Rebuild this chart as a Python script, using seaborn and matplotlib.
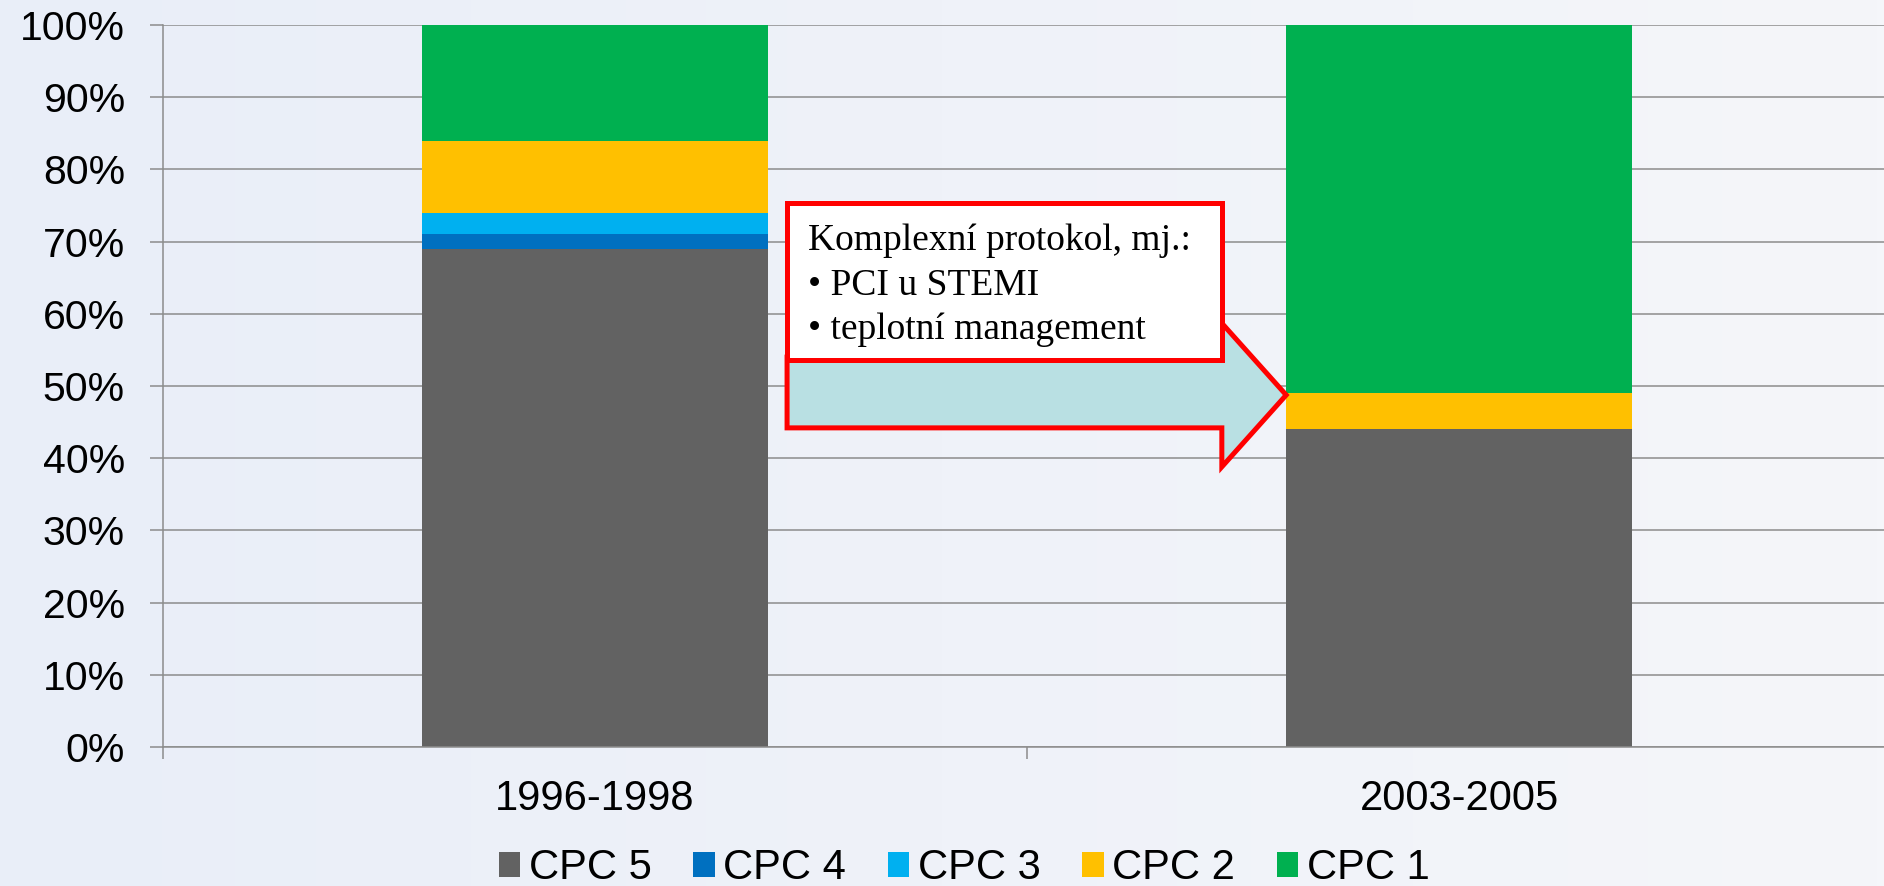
import numpy as np
import pandas as pd
import seaborn as sns
import matplotlib.pyplot as plt
from matplotlib.colors import LinearSegmentedColormap
from matplotlib.patches import Polygon, Rectangle, Patch

# Data (percent of patients)
periods = ['1996-1998', '2003-2005']
cpc5 = [69, 44]
cpc4 = [2, 0]
cpc3 = [3, 0]
cpc2 = [10, 5]
cpc1 = [16, 51]

stack = ['CPC 5', 'CPC 4', 'CPC 3', 'CPC 2', 'CPC 1']
colors = {'CPC 5': '#626262', 'CPC 4': '#0070C0', 'CPC 3': '#00B0F0',
          'CPC 2': '#FFC000', 'CPC 1': '#00B050'}

df = pd.DataFrame({'period': periods, 'CPC 5': cpc5, 'CPC 4': cpc4,
                   'CPC 3': cpc3, 'CPC 2': cpc2, 'CPC 1': cpc1})
cum = df[stack].cumsum(axis=1)

sns.set_theme(style='white')
plt.rcParams['font.family'] = ['Liberation Sans', 'DejaVu Sans']
plt.rcParams['text.color'] = 'black'

W, H = 1884, 886
fig = plt.figure(figsize=(W / 100, H / 100), dpi=100)

# light bluish gradient background
bg = fig.add_axes([0, 0, 1, 1], zorder=0)
cmap = LinearSegmentedColormap.from_list('bg', ['#E9EEF8', '#F5F6FA'])
bg.imshow(np.linspace(0, 1, 256).reshape(1, -1), aspect='auto', cmap=cmap,
          extent=[0, 1, 0, 1])
bg.axis('off')

ax = fig.add_axes([163 / W, 139 / H, 1728 / W, 722 / H], zorder=1)
ax.patch.set_alpha(0)

# stacked bars: draw cumulative totals from top segment down
for name in reversed(stack):
    sns.barplot(x=df['period'], y=cum[name], color=colors[name], width=0.4,
                saturation=1, linewidth=0, ax=ax)

ax.set_xlim(-0.5, 1.5)
ax.set_ylim(0, 100)
ax.set_xlabel('')
ax.set_ylabel('')
ax.set_yticks(range(0, 101, 10))
ax.set_yticklabels([f'{v}%' for v in range(0, 101, 10)])
ax.set_axisbelow(True)
ax.yaxis.grid(True, color='#8C8C8C', linewidth=1.1)
ax.xaxis.grid(False)
for s in ['top', 'right']:
    ax.spines[s].set_visible(False)
for s in ['left', 'bottom']:
    ax.spines[s].set_color('#8C8C8C')
    ax.spines[s].set_linewidth(1.1)
ax.set_xticks([-0.5, 0.5, 1.5], minor=True)
ax.tick_params(axis='y', which='major', length=9.4, width=1.1, color='#8C8C8C',
               direction='out', pad=18, labelsize=29.5, labelcolor='black', left=True)
ax.tick_params(axis='x', which='major', length=0, pad=23, labelsize=30,
               labelcolor='black')
ax.tick_params(axis='x', which='minor', length=8.6, width=1.1, color='#8C8C8C',
               direction='out', bottom=True)

# callout: arrow behind a text box
arrow = Polygon([(0.2223, 54), (0.7255, 54), (0.7255, 58.7), (0.800, 48.75),
                 (0.7255, 38.8), (0.7255, 44.2), (0.2223, 44.2)],
                closed=True, facecolor='#B9E0E3', edgecolor='#FF0000',
                linewidth=3.6, joinstyle='miter', zorder=5, clip_on=False)
ax.add_patch(arrow)
box = Rectangle((0.2223, 53.6), 0.7255 - 0.2223, 75.3 - 53.6, facecolor='white',
                edgecolor='#FF0000', linewidth=3.6, joinstyle='miter', zorder=6,
                clip_on=False)
ax.add_patch(box)
lines = ['Komplexní protokol, mj.:', '• PCI u STEMI', '• teplotní management']
for i, line in enumerate(lines):
    ax.text(0.2465, 68.8 - i * 6.17, line, family=['Liberation Serif', 'DejaVu Serif'],
            fontsize=27, va='baseline', ha='left', color='black', zorder=7)

handles = [Patch(facecolor=colors[n], edgecolor='none') for n in stack]
fig.legend(handles, stack, loc='center', bbox_to_anchor=(0.5117, 0.02), ncol=5,
           frameon=False, fontsize=30, handlelength=0.52, handleheight=0.52,
           handletextpad=0.2, columnspacing=1.0, labelcolor='black')

fig.savefig('out.png', dpi=100)
